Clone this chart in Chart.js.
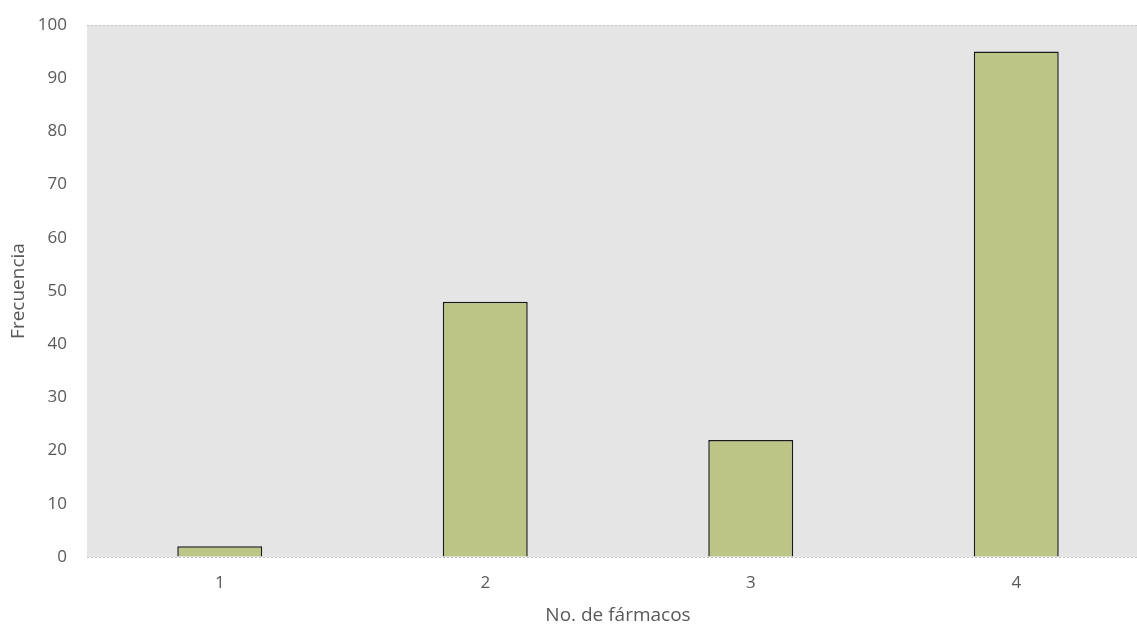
<!DOCTYPE html>
<html>
<head>
<meta charset="utf-8">
<style>
    html, body {margin: 0; padding: 0; background: #ffffff; overflow: hidden;}
    #wrap {width: 1149px; height: 627px;}
</style>
<script src="https://cdn.jsdelivr.net/npm/chart.js@4/dist/chart.umd.min.js"></script>
</head>
<body>
<div id="wrap"><canvas id="farmacos" width="1149" height="627"></canvas></div>
<script>

    // number of drugs vs how often it happens
    const categories = ["1", "2", "3", "4"];
    const frecuencia = [2, 48, 22, 95];
    const yTicks = [0, 10, 20, 30, 40, 50, 60, 70, 80, 90, 100];

    const textColor = "#595959";
    const fontFamily = "'Open Sans', 'Noto Sans', sans-serif";

    // grey panel behind the bars
    const plotBackground = {
        id: "plotBackground",
        beforeDraw(chart) {
            const a = chart.chartArea;
            const ctx = chart.ctx;
            ctx.save();
            ctx.fillStyle = "#e5e5e5";
            ctx.fillRect(a.left, a.top, a.right - a.left, a.bottom - a.top);
            ctx.restore();
        }
    };

    new Chart(document.getElementById("farmacos").getContext("2d"), {
        type: "bar",
        data: {
            labels: categories,
            datasets: [{
                label: "Frecuencia",
                data: frecuencia,
                backgroundColor: "#bcc585",
                borderColor: "#1a1a1a",
                borderWidth: 1.5,
                categoryPercentage: 1,
                barPercentage: 0.32
            }]
        },
        options: {
            responsive: false,
            animation: false,
            layout: {padding: {top: 25, right: 0, left: 0, bottom: 0}},
            plugins: {
                legend: {display: false},
                tooltip: {enabled: false}
            },
            scales: {
                x: {
                    grid: {display: false, drawTicks: false},
                    border: {display: false},
                    ticks: {color: textColor, font: {family: fontFamily, size: 17}, padding: 16},
                    title: {
                        display: true,
                        text: "No. de fármacos",
                        color: textColor,
                        font: {family: fontFamily, size: 19},
                        padding: {top: 0, bottom: 0}
                    },
                    afterFit(scale) {
                        scale.height = 70;
                        scale.paddingLeft = 0;
                        scale.paddingRight = 0;
                    }
                },
                y: {
                    min: 0,
                    max: 100,
                    afterBuildTicks(scale) { scale.ticks = yTicks.map(v => ({value: v})); },
                    grid: {
                        drawTicks: false,
                        lineWidth: 1,
                        color(ctx) {
                            const v = ctx.tick ? ctx.tick.value : null;
                            return (v === 0 || v === 100) ? "#c4c4c4" : "rgba(0,0,0,0)";
                        }
                    },
                    border: {display: false, dash: [2, 2]},
                    ticks: {color: textColor, font: {family: fontFamily, size: 17}, padding: 20},
                    title: {
                        display: true,
                        text: "Frecuencia",
                        color: textColor,
                        font: {family: fontFamily, size: 19},
                        padding: {top: 7, bottom: 0}
                    },
                    afterFit(scale) {
                        scale.width = 87;
                        scale.paddingTop = 0;
                        scale.paddingBottom = 0;
                    }
                }
            }
        },
        plugins: [plotBackground]
    });

</script>
</body>
</html>
